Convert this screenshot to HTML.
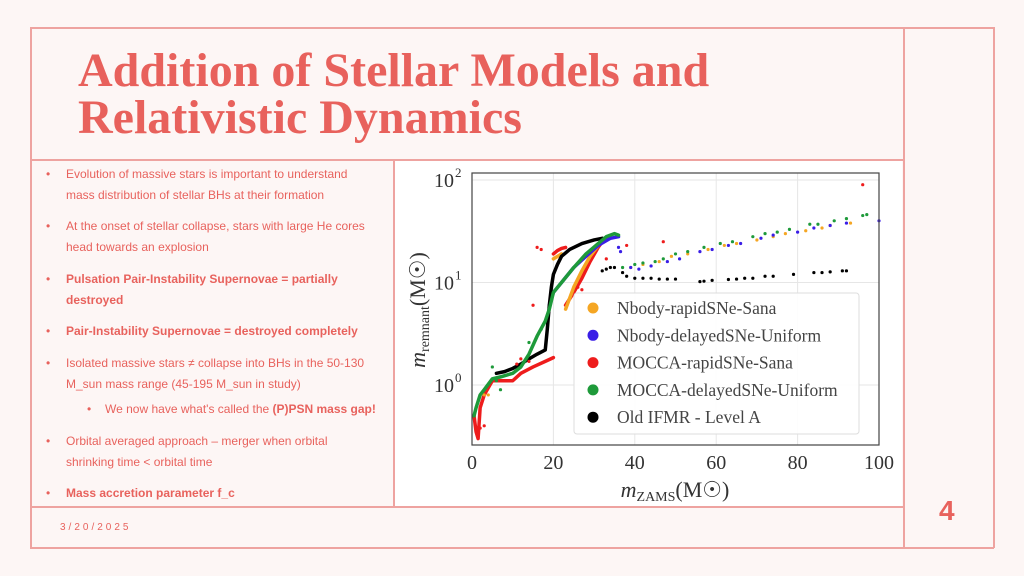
<!DOCTYPE html>
<html><head><meta charset="utf-8">
<style>
body{margin:0;width:1024px;height:576px;background:#fdf6f5;position:relative;overflow:hidden;font-family:"Liberation Sans",sans-serif;color:#e8625d}
.ln{position:absolute;background:#eea3a0}
.t{position:absolute;font-family:"Liberation Serif",serif;font-weight:bold;font-size:48px;letter-spacing:0px;white-space:nowrap;color:#e8615c}
.b{position:absolute;font-size:12px;letter-spacing:0px;white-space:nowrap;line-height:14px}
.bold{font-weight:bold}
</style></head><body>
<div class="ln" style="left:30px;top:27px;width:964px;height:1.5px"></div>
<div class="ln" style="left:30px;top:547px;width:964px;height:1.5px"></div>
<div class="ln" style="left:30px;top:27px;width:1.5px;height:521px"></div>
<div class="ln" style="left:993px;top:27px;width:1.5px;height:521px"></div>
<div class="ln" style="left:903px;top:27px;width:1.5px;height:521px"></div>
<div class="ln" style="left:30px;top:159px;width:873px;height:1.5px"></div>
<div class="ln" style="left:30px;top:506px;width:873px;height:1.5px"></div>
<div class="ln" style="left:393px;top:160px;width:1.5px;height:346px"></div>

<div class="t" style="left:78px;top:43px">Addition of Stellar Models and</div>
<div class="t" style="left:78px;top:90px">Relativistic Dynamics</div>

<div>
<div class="b" style="left:46px;top:167px">•</div><div class="b" style="left:66px;top:167px">Evolution of massive stars is important to understand</div>
<div class="b" style="left:66px;top:188px">mass distribution of stellar BHs at their formation</div>
<div class="b" style="left:46px;top:219px">•</div><div class="b" style="left:66px;top:219px">At the onset of stellar collapse, stars with large He cores</div>
<div class="b" style="left:66px;top:240px">head towards an explosion</div>
<div class="b" style="left:46px;top:272px">•</div><div class="b bold" style="left:66px;top:272px">Pulsation Pair-Instability Supernovae = partially</div>
<div class="b bold" style="left:66px;top:293px">destroyed</div>
<div class="b" style="left:46px;top:324px">•</div><div class="b bold" style="left:66px;top:324px">Pair-Instability Supernovae = destroyed completely</div>
<div class="b" style="left:46px;top:356px">•</div><div class="b" style="left:66px;top:356px">Isolated massive stars ≠ collapse into BHs in the 50-130</div>
<div class="b" style="left:66px;top:377px">M_sun mass range (45-195 M_sun in study)</div>
<div class="b" style="left:87px;top:402px">•</div><div class="b" style="left:105px;top:402px">We now have what's called the <span class="bold">(P)PSN mass gap!</span></div>
<div class="b" style="left:46px;top:434px">•</div><div class="b" style="left:66px;top:434px">Orbital averaged approach – merger when orbital</div>
<div class="b" style="left:66px;top:455px">shrinking time &lt; orbital time</div>
<div class="b" style="left:46px;top:486px">•</div><div class="b bold" style="left:66px;top:486px">Mass accretion parameter f_c</div>
</div>
<div class="b" style="left:60px;top:521px;font-size:10px;letter-spacing:3px">3/20/2025</div>
<div class="b bold" style="left:939px;top:496px;font-size:28px;line-height:30px">4</div>

<svg style="position:absolute;left:395px;top:161px" width="507" height="345" viewBox="395 161 507 345" xmlns="http://www.w3.org/2000/svg">
<rect x="395" y="161" width="507" height="345" fill="#fff"/>
<g id="g"></g>
</svg>
<script>
const xTicks=[0,20,40,60,80,100];
const yTicks=[0,1,2];
const legendLabels=["Nbody-rapidSNe-Sana","Nbody-delayedSNe-Uniform","MOCCA-rapidSNe-Sana","MOCCA-delayedSNe-Uniform","Old IFMR - Level A"];
const colors=["#f5a623","#3a1ee6","#ee1c1c","#1e9a3a","#000"];
// dense curve segments [x, y]
const orangeCurve=[[20,17],[21,18],[22,19],[23,5.5],[25,9],[27,13],[29,18],[31,23],[33,27]];
const blueCurve=[[19,6],[20,8],[22,10],[25,14],[28,18],[31,23],[34,27],[36,28]];
const redCurve=[[0.5,0.5],[1,0.35],[1.5,0.3],[2,0.6],[3,0.8],[5,1.1],[7,1.1],[10,1.1],[12,1.3],[15,1.5],[18,1.7],[20,1.85]];
const redCurve2=[[20,19],[21,20.5],[22,21.5],[23,22]];
const redCurve3=[[23,6],[25,8],[27,11],[29,16],[31,22],[32,25]];
const greenCurve=[[0.5,0.5],[1,0.6],[2,0.8],[3,0.9],[5,1.15],[7,1.2],[10,1.3],[12,1.5],[14,2],[16,3],[18,4.2],[19,5.5],[20,8],[22,10],[25,14],[28,19],[31,24],[33,28],[35,30],[36,29]];
const blackCurve=[[6,1.3],[8,1.35],[10,1.45],[12,1.6],[14,1.8],[16,2],[18,2.2],[18.5,3.5],[19,6],[19.5,9],[20,12],[21,15],[22,18],[24,21],[27,24],[30,26],[32,27]];
// scattered points [x, y]
const orangePts=[[39,14],[42,15],[46,16],[49,18],[53,19],[58,21],[62,23],[65,24],[70,26],[74,28],[77,30],[82,32],[86,34],[88,36],[93,38],[3,0.8],[4,0.8]];
const bluePts=[[36,22],[36.5,20],[39,14],[41,13.5],[44,14.5],[48,16],[51,17],[56,20],[59,21],[63,23],[66,24],[71,27],[74,29],[80,31],[84,34],[88,36],[92,38],[100,40]];
const redPts=[[16,22],[17,21],[15,6],[47,25],[96,90],[26,9],[27,8.5],[33,17],[38,23],[2,0.38],[3,0.4],[11,1.6],[12,1.8],[14,1.7]];
const greenPts=[[37,14],[40,15],[42,15.5],[45,16],[47,17],[50,19],[53,20],[57,22],[61,24],[64,25],[69,28],[72,30],[75,31],[78,33],[83,37],[85,37],[89,40],[92,42],[96,45],[97,46],[5,1.5],[6,1.1],[7,0.9],[14,2.6],[17,3.5]];
const blackPts=[[32,13],[33,13.5],[34,14],[35,14],[37,12.5],[38,11.5],[40,11],[42,11],[44,11],[46,10.8],[48,10.8],[50,10.8],[56,10.2],[57,10.3],[59,10.5],[63,10.7],[65,10.8],[67,11],[69,11],[72,11.5],[74,11.5],[79,12],[84,12.5],[86,12.5],[88,12.7],[91,13],[92,13]];

const L=472,R=879,T=173,B=445;
const xs=v=>L+(v/100)*(R-L);
const ys=v=>385-Math.log10(v)*102.5;
const g=document.getElementById('g');
const NS='http://www.w3.org/2000/svg';
function mk(t,a){const e=document.createElementNS(NS,t);for(const k in a)e.setAttribute(k,a[k]);g.appendChild(e);return e;}
for(const t of xTicks){const e=mk('line',{x1:xs(t),x2:xs(t),y1:T,y2:B,stroke:'#e6e6e6','stroke-width':1});

}
for(const t of yTicks){const e=mk('line',{x1:L,x2:R,y1:ys(Math.pow(10,t)),y2:ys(Math.pow(10,t)),stroke:'#e6e6e6','stroke-width':1});

}
function curve(d,c,name){const e=mk('polyline',{points:d.map(p=>xs(p[0])+','+ys(p[1])).join(' '),fill:'none',stroke:c,'stroke-width':3.5,'stroke-linejoin':'round','stroke-linecap':'round'});

}
function pts(d,c,name){for(const p of d){const e=mk('circle',{cx:xs(p[0]),cy:ys(p[1]),r:1.6,fill:c});

}}
curve(redCurve,colors[2],'mocca-rapid-curve');curve(redCurve2,colors[2],'mocca-rapid-curve');curve(redCurve3,colors[2],'mocca-rapid-curve');
curve(orangeCurve.slice(0,3),colors[0],'nbody-rapid-curve');curve(orangeCurve.slice(3),colors[0],'nbody-rapid-curve');
curve(blueCurve,colors[1],'nbody-delayed-curve');
curve(blackCurve,colors[4],'old-ifmr-curve');
curve(greenCurve,colors[3],'mocca-delayed-curve');
pts(orangePts,colors[0],'nbody-rapid-point');pts(bluePts,colors[1],'nbody-delayed-point');pts(redPts,colors[2],'mocca-rapid-point');pts(greenPts,colors[3],'mocca-delayed-point');pts(blackPts,colors[4],'old-ifmr-point');
let f=mk('rect',{x:L,y:T,width:R-L,height:B-T,fill:'none',stroke:'#444','stroke-width':1.2});


for(const t of xTicks){const e=mk('text',{x:xs(t),y:469,'text-anchor':'middle','font-family':'Liberation Serif, serif','font-size':20,fill:'#333'});e.textContent=t;

}
for(const t of yTicks){const y=ys(Math.pow(10,t));const e=mk('text',{x:434,y:y+7,'font-family':'Liberation Serif, serif','font-size':20,fill:'#333'});e.textContent='10';


const s=mk('text',{x:455,y:y-3,'font-family':'Liberation Serif, serif','font-size':13,fill:'#333'});s.textContent=t;

}
let xt=mk('text',{x:675,y:497,'text-anchor':'middle','font-family':'Liberation Serif, serif','font-size':22,fill:'#333'});
xt.innerHTML='<tspan font-style="italic">m</tspan><tspan font-size="14" dy="4">ZAMS</tspan><tspan dy="-4">(M☉)</tspan>';


let yt=mk('text',{x:0,y:0,'text-anchor':'middle','font-family':'Liberation Serif, serif','font-size':22,fill:'#333',transform:'translate(425,310) rotate(-90)'});
yt.innerHTML='<tspan font-style="italic">m</tspan><tspan font-size="14" dy="4">remnant</tspan><tspan dy="-4">(M☉)</tspan>';


let lb=mk('rect',{x:574,y:293,width:285,height:141,rx:3,fill:'#fff','fill-opacity':0.9,stroke:'#ddd'});


legendLabels.forEach((lab,i)=>{const y=308+i*27.3;
const c=mk('circle',{cx:593,cy:y,r:5.5,fill:colors[i]});


const t=mk('text',{x:617,y:y+6,'font-family':'Liberation Serif, serif','font-size':17.5,fill:'#444'});t.textContent=lab;

});
</script>
</body></html>
